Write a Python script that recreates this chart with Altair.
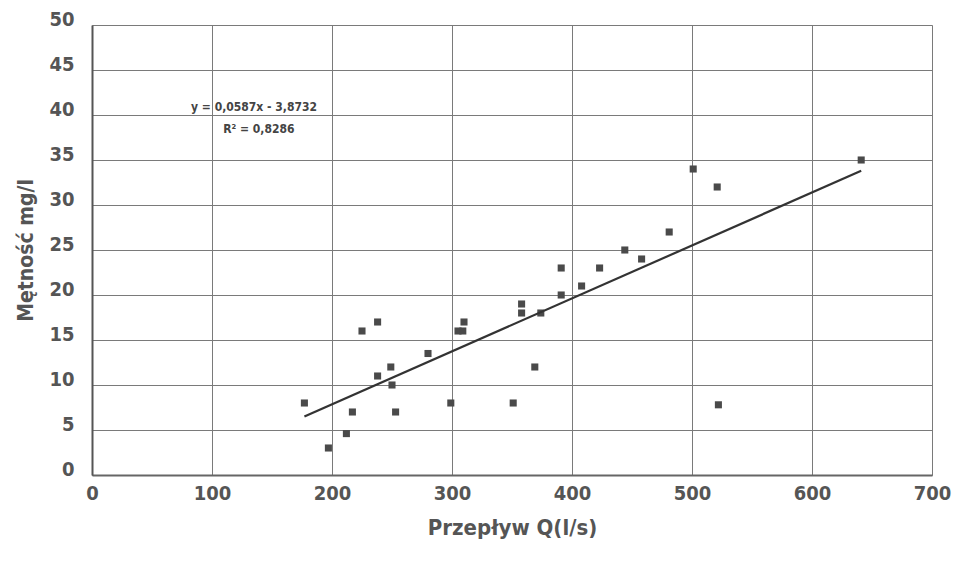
import altair as alt
import pandas as pd

# Scatter data
flow = [177, 197, 212, 217, 225, 238, 238, 249, 250, 253, 280, 299, 305, 309, 310,
        351, 358, 358, 369, 374, 391, 391, 408, 423, 444, 458, 481, 501, 521, 522, 641]
turb = [8, 3, 4.6, 7, 16, 17, 11, 12, 10, 7, 13.5, 8, 16, 16, 17,
        8, 19, 18, 12, 18, 23, 20, 21, 23, 25, 24, 27, 34, 32, 7.8, 35]

# Trend line end points (y = 0,0587x - 3,8732)
trend_x = [177, 641]
trend_y = [6.5, 33.8]

# Annotation
ann_text = ["y = 0,0587x - 3,8732", "R² = 0,8286"]
ann_x = [135, 139]
ann_y = [40.9, 38.4]

FONT = "'DejaVu Sans Condensed', 'Roboto Condensed', 'Liberation Sans Narrow', Roboto, sans-serif"
GRAY = "#555555"

pts = pd.DataFrame({"x": flow, "y": turb})
trend = pd.DataFrame({"x": trend_x, "y": trend_y})
ann = pd.DataFrame({"t": ann_text, "x": ann_x, "y": ann_y})

xs = alt.Scale(domain=[0, 700], nice=False)
ys = alt.Scale(domain=[0, 50], nice=False)

xaxis = alt.Axis(values=list(range(0, 701, 100)), title="Przepływ Q(l/s)",
                 grid=True, gridColor="#7a7a7a", gridWidth=1,
                 domain=True, domainColor="#666666", domainWidth=2,
                 ticks=False, labelPadding=8, labelFontSize=20, labelFont=FONT,
                 labelFontWeight="bold", labelColor=GRAY, labelFlush=False,
                 titleFont=FONT, titleFontSize=22, titleFontWeight="bold",
                 titleColor=GRAY, titlePadding=14)
yaxis = alt.Axis(values=list(range(0, 51, 5)), title="Mętność mg/l",
                 grid=True, gridColor="#7a7a7a", gridWidth=1,
                 domain=True, domainColor="#555555", domainWidth=2,
                 ticks=False, labelPadding=18, labelFontSize=20, labelFont=FONT,
                 labelFontWeight="bold", labelColor=GRAY, labelOffset=-6,
                 labelFlush=False,
                 titleFont=FONT, titleFontSize=21, titleFontWeight="bold",
                 titleColor=GRAY, titlePadding=12)

points = alt.Chart(pts).mark_square(size=50, color="#4a4a4a", opacity=1).encode(
    x=alt.X("x:Q", scale=xs, axis=xaxis),
    y=alt.Y("y:Q", scale=ys, axis=yaxis),
)

line = alt.Chart(trend).mark_line(color="#333333", strokeWidth=2.2).encode(
    x=alt.X("x:Q", scale=xs),
    y=alt.Y("y:Q", scale=ys),
)

text = alt.Chart(ann).mark_text(font="'DejaVu Sans Condensed', 'Liberation Sans', sans-serif",
                                fontWeight="bold", fontSize=12, color="#444444").encode(
    x=alt.X("x:Q", scale=xs),
    y=alt.Y("y:Q", scale=ys),
    text="t:N",
)

chart = alt.layer(points, line, text).properties(
    width=840, height=450,
    autosize=alt.AutoSizeParams(type="none"),
    padding={"left": 84, "top": 17, "right": 22, "bottom": 80},
).configure_view(stroke="#777777", strokeWidth=1.5).configure(background="white")

chart.save("out.html", embed_options={"renderer": "svg", "actions": False})
